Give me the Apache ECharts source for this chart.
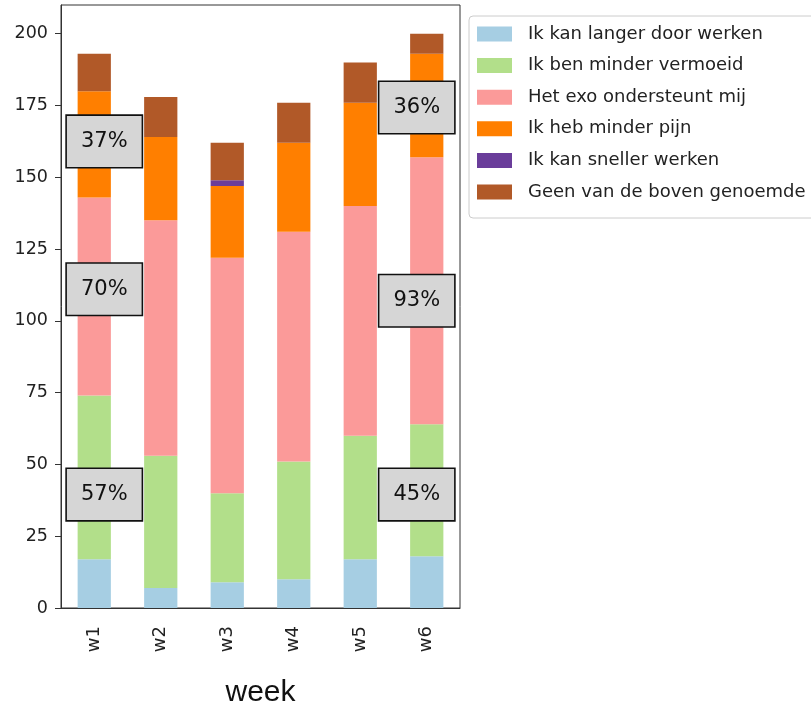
<!DOCTYPE html>
<html>
<head>
<meta charset="utf-8">
<script src="https://cdn.jsdelivr.net/npm/echarts@6/dist/echarts.min.js"></script>
<style>
html,body{margin:0;padding:0;background:#fff;}
#chart{width:811px;height:713px;}
</style>
</head>
<body>
<div id="chart"></div>
<script>
// Categories
const weeks = ['w1', 'w2', 'w3', 'w4', 'w5', 'w6'];
// Series names
const seriesNames = [
  'Ik kan langer door werken',
  'Ik ben minder vermoeid',
  'Het exo ondersteunt mij',
  'Ik heb minder pijn',
  'Ik kan sneller werken',
  'Geen van de boven genoemde'
];
// Series values (stacked)
const langer   = [17, 7, 9, 10, 17, 18];
const vermoeid = [57, 46, 31, 41, 43, 46];
const exo      = [69, 82, 82, 80, 80, 93];
const pijn     = [37, 29, 25, 31, 36, 36];
const sneller  = [0, 0, 2, 0, 0, 0];
const geen     = [13, 14, 13, 14, 14, 7];
// Annotation boxes
const annoWeeks  = ['w1', 'w1', 'w1', 'w6', 'w6', 'w6'];
const annoValues = [162.5, 111, 39.5, 174.3, 107, 39.5];
const annoTexts  = ['37%', '70%', '57%', '36%', '93%', '45%'];
// Y ticks
const yTicks = [0, 25, 50, 75, 100, 125, 150, 175, 200];

const colors = ['#a6cee3', '#b2df8a', '#fb9a99', '#ff7f00', '#6a3d9a', '#b15928'];
const values = [langer, vermoeid, exo, pijn, sneller, geen];

const barSeries = seriesNames.map((name, i) => ({
  name: name,
  type: 'bar',
  stack: 'total',
  barWidth: '50%',
  data: values[i],
  itemStyle: { color: colors[i] },
  emphasis: { disabled: true }
}));

function annoSeries(side) {
  const data = [];
  annoWeeks.forEach((w, i) => {
    if ((side === 'left' && w === 'w1') || (side === 'right' && w === 'w6')) {
      data.push({ value: [w, annoValues[i]], text: annoTexts[i] });
    }
  });
  return {
    type: 'scatter',
    symbolSize: 0,
    z: 10,
    silent: true,
    itemStyle: { opacity: 1 },
    emphasis: { disabled: true },
    data: data,
    label: {
      show: true,
      position: 'inside',
      offset: [side === 'left' ? 10 : -10, 0],
      formatter: p => p.data.text,
      fontFamily: 'DejaVu Sans',
      fontSize: 21,
      lineHeight: 24,
      color: '#111',
      opacity: 1,
      backgroundColor: '#d6d6d6',
      borderColor: '#111',
      borderWidth: 1.6,
      padding: [14, 14, 13, 14]
    }
  };
}

const chart = echarts.init(document.getElementById('chart'));
chart.setOption({
  animation: false,
  backgroundColor: '#fff',
  grid: {
    left: 61, right: 351, top: 5, bottom: 105,
    show: true, borderColor: '#333', borderWidth: 1
  },
  legend: {
    data: seriesNames,
    orient: 'vertical',
    left: 469,
    top: 16,
    icon: 'rect',
    itemWidth: 35,
    itemHeight: 15,
    itemGap: 13.6,
    padding: [9, 10, 17, 8],
    borderColor: '#cccccc',
    borderWidth: 1,
    borderRadius: 4,
    selectedMode: false,
    textStyle: {
      fontFamily: 'DejaVu Sans',
      fontSize: 18,
      color: '#222',
      padding: [0, 0, 0, 11]
    }
  },
  xAxis: {
    type: 'category',
    data: weeks,
    name: 'week',
    nameLocation: 'middle',
    nameGap: 70,
    nameTextStyle: { fontFamily: 'Liberation Sans', fontSize: 30, color: '#111' },
    axisLine: { lineStyle: { color: '#333' } },
    axisTick: { alignWithLabel: true, length: 6, lineStyle: { color: '#333' } },
    axisLabel: {
      rotate: 90,
      margin: 18,
      fontFamily: 'DejaVu Sans',
      fontSize: 18,
      color: '#222'
    }
  },
  yAxis: {
    type: 'value',
    min: 0,
    max: 210,
    interval: 25,
    splitLine: { show: false },
    axisLine: { show: true, lineStyle: { color: '#333' } },
    axisTick: { show: true, length: 6, lineStyle: { color: '#333' } },
    axisLabel: {
      margin: 13,
      fontFamily: 'DejaVu Sans',
      fontSize: 17.5,
      color: '#222',
      showMaxLabel: false,
      formatter: v => (yTicks.indexOf(v) >= 0 ? String(v) : '')
    }
  },
  series: barSeries.concat([annoSeries('left'), annoSeries('right')])
});
</script>
</body>
</html>
